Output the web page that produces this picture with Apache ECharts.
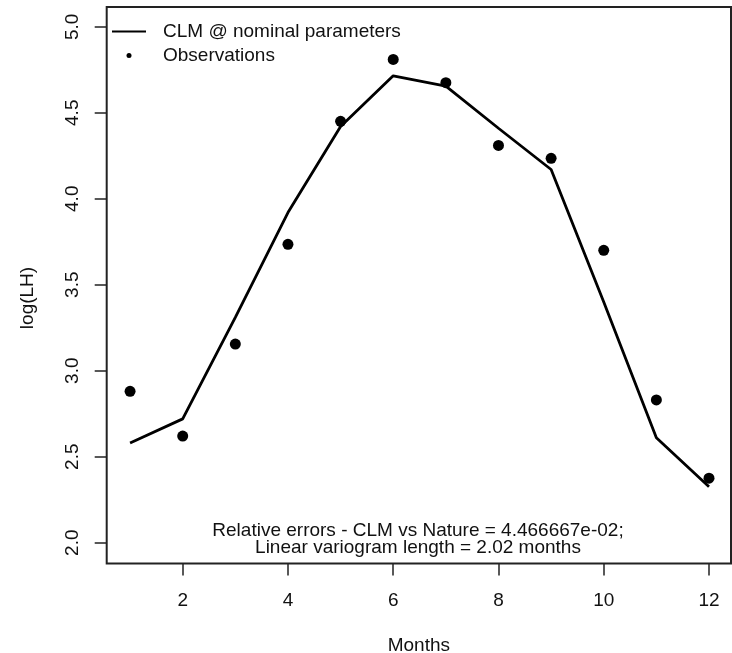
<!DOCTYPE html>
<html>
<head>
<meta charset="utf-8">
<script src="https://cdn.jsdelivr.net/npm/echarts@6/dist/echarts.min.js"></script>
<style>
  html, body { margin: 0; padding: 0; background: #fff; }
  #chart { width: 732px; height: 653px; }
</style>
</head>
<body>
<div id="chart"></div>
<script>
// Monthly log(LH): CLM run at nominal parameters vs observed values
const months = [1, 2, 3, 4, 5, 6, 7, 8, 9, 10, 11, 12];
const clmNominal = [2.58, 2.72, 3.31, 3.92, 4.42, 4.715, 4.655, 4.41, 4.17, 3.40, 2.61, 2.325];
const observations = [2.88, 2.62, 3.155, 3.735, 4.45, 4.81, 4.675, 4.31, 4.235, 3.70, 2.83, 2.375];

const xTicks = [2, 4, 6, 8, 10, 12];
const yTicks = [2.0, 2.5, 3.0, 3.5, 4.0, 4.5, 5.0];

const noteLines = [
  'Relative errors - CLM vs Nature = 4.466667e-02;',
  'Linear variogram length = 2.02 months'
];

const FONT = '"Liberation Sans", Arial, sans-serif';
const FS = 19;
const INK = '#111';

const chart = echarts.init(document.getElementById('chart'), null, { renderer: 'canvas' });

chart.setOption({
  backgroundColor: '#fff',
  animation: false,
  grid: {
    left: 106.7, right: 1, top: 7, bottom: 89.5,
    outerBoundsMode: 'none', containLabel: false,
    show: true, borderColor: '#222', borderWidth: 2, backgroundColor: 'transparent'
  },
  xAxis: {
    type: 'value',
    min: 0.556, max: 12.418,
    splitLine: { show: false },
    axisLine: { show: false },
    axisTick: { show: true, inside: false, length: 12, customValues: xTicks,
                lineStyle: { color: '#222', width: 1.5 } },
    axisLabel: { customValues: xTicks, margin: 27.5, color: INK,
                 fontFamily: FONT, fontSize: FS },
    name: 'Months', nameLocation: 'middle', nameGap: 73,
    nameTextStyle: { color: INK, fontFamily: FONT, fontSize: FS }
  },
  yAxis: {
    type: 'value',
    min: 1.879, max: 5.115,
    splitLine: { show: false },
    axisLine: { show: false },
    axisTick: { show: true, inside: false, length: 12, customValues: yTicks,
                lineStyle: { color: '#222', width: 1.5 } },
    axisLabel: { customValues: yTicks, rotate: 90, margin: 24, color: INK,
                 fontFamily: FONT, fontSize: FS,
                 formatter: v => Number(v).toFixed(1) }
  },
  legend: [
    {
      data: [{ name: 'CLM @ nominal parameters', icon: 'rect', itemStyle: { color: '#000' } }],
      left: 112, top: 22, padding: 0, itemWidth: 34, itemHeight: 2,
      textStyle: { color: INK, fontFamily: FONT, fontSize: FS, padding: [0, 0, 0, 12] },
      selectedMode: false
    },
    {
      data: [{ name: 'Observations', icon: 'circle', itemStyle: { color: '#000' } }],
      left: 126.5, top: 46, padding: 0, itemWidth: 5, itemHeight: 5,
      textStyle: { color: INK, fontFamily: FONT, fontSize: FS, padding: [0, 0, 0, 26.5] },
      selectedMode: false
    }
  ],
  graphic: [
    {
      type: 'text',
      x: 28, y: 298, rotation: Math.PI / 2,
      style: { text: 'log(LH)', fill: INK, font: FS + 'px ' + FONT, textAlign: 'center', textVerticalAlign: 'middle' },
      silent: true
    }
  ].concat(noteLines.map((t, i) => ({
    type: 'text',
    x: 418, y: 531 + i * 17,
    style: { text: t, fill: INK, font: FS + 'px ' + FONT, textAlign: 'center', textVerticalAlign: 'middle' },
    silent: true
  }))),
  series: [
    {
      name: 'CLM @ nominal parameters',
      type: 'line',
      data: months.map((m, i) => [m, clmNominal[i]]),
      symbol: 'none',
      lineStyle: { color: '#000', width: 2.8 },
      itemStyle: { color: '#000' },
      z: 3
    },
    {
      name: 'Observations',
      type: 'scatter',
      data: months.map((m, i) => [m, observations[i]]),
      symbol: 'circle', symbolSize: 11,
      itemStyle: { color: '#000', opacity: 1 },
      z: 4
    }
  ]
});
</script>
</body>
</html>
